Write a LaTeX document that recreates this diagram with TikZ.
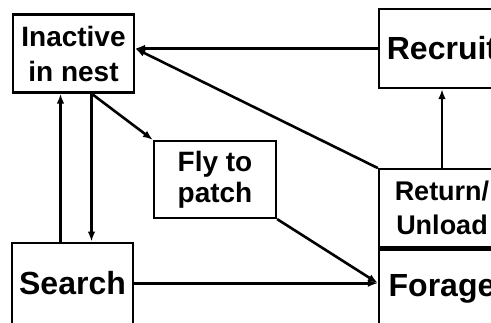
\documentclass[tikz,border=0pt]{standalone}
\usepackage{fontspec}
\setmainfont{Liberation Sans}
\usepackage{tikz}
\usetikzlibrary{positioning, arrows.meta, calc}

\tikzset{
    box/.style={draw, line width=2.2pt, minimum width=121pt, minimum height=78pt,
        inner sep=3pt, align=center},
    colbox/.style={box, minimum width=126pt},
    flow/.style={-{Latex[length=10pt,width=7.5pt]}, line width=2.6pt}
}

\begin{document}
\begin{tikzpicture}[x=1pt, y=-1pt, font=\bfseries]
    \clip (0,0) rectangle (491,322);

    \node[box, font=\bfseries\fontsize{28}{35}\selectfont] (inactive) at (73.5,53.5) {Inactive\\in nest};
    \node[box, minimum height=81pt, font=\bfseries\fontsize{32}{36}\selectfont, below=148pt of inactive, xshift=-1pt] (search) {Search};
    \node[box, minimum width=122pt, minimum height=77pt, font=\bfseries\fontsize{28}{31}\selectfont] (fly) at (215,179.5) {Fly to\\patch};
    \node[colbox, minimum height=79pt, font=\bfseries\fontsize{32}{36}\selectfont] (recruit) at (442,48.5) {Recruit};
    \node[colbox, font=\bfseries\fontsize{27}{34}\selectfont, below=79pt of recruit] (ret) {Return/\\Unload};
    \node[colbox, minimum height=0pt, text height=44pt, text depth=60pt,
        font=\bfseries\fontsize{32}{36}\selectfont, below=0pt of ret] (forage) {Forage};

    \path[flow]
        (recruit.west) edge (recruit.west -| inactive.east)
        (ret.north west) edge (recruit.west -| inactive.east)
        (ret.north) edge (recruit.south)
        ([xshift=-12pt]search.north) edge ([xshift=-12pt]search.north |- inactive.south)
        ([xshift=18pt]inactive.south) edge ([xshift=18pt]inactive.south |- search.north)
        ([xshift=18pt]inactive.south) edge (fly.north west)
        (fly.south east) edge (search.east -| forage.west)
        (search.east) edge (search.east -| forage.west)
        ;
\end{tikzpicture}
\end{document}
